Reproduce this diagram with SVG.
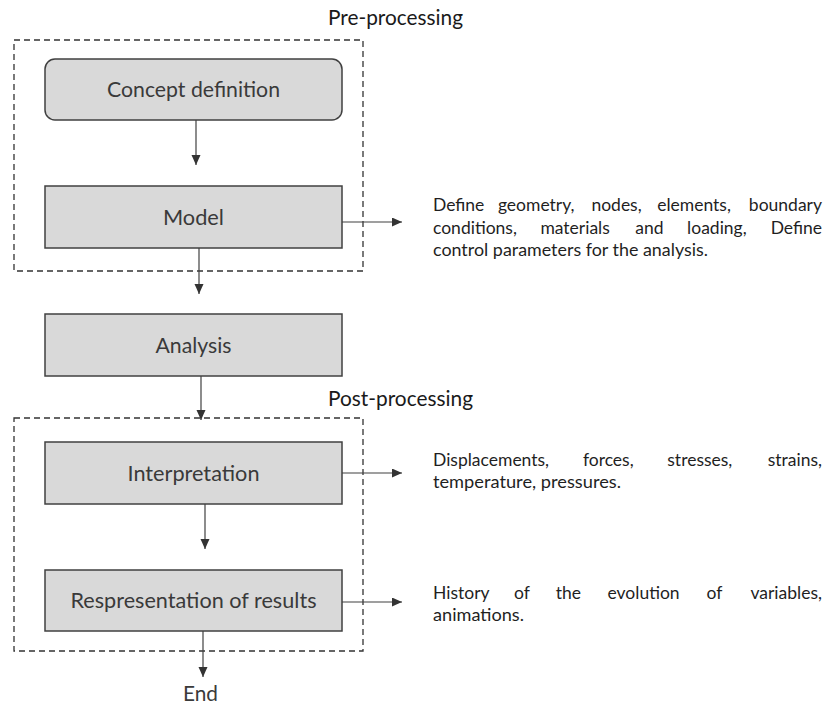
<svg xmlns="http://www.w3.org/2000/svg" width="827" height="704" viewBox="0 0 827 704">
<style>
.bg{fill:#ffffff}
.box{fill:#d9d9d9;stroke:#404040;stroke-width:1.5}
.group{fill:none;stroke:#333333;stroke-width:1.3;stroke-dasharray:6 4}
.lbl{font-family:Lato,"Open Sans","Liberation Sans",sans-serif;font-size:21px;fill:#3a3a3a;text-anchor:middle}
.title{font-family:Lato,"Open Sans","Liberation Sans",sans-serif;font-size:21px;fill:#1a1a1a}
.note{font-family:Lato,"Open Sans","Liberation Sans",sans-serif;font-size:17.5px;fill:#1f1f1f}
.conn{stroke:#404040;stroke-width:1.2;fill:none;marker-end:url(#ah)}
</style>
<defs>
<marker id="ah" markerUnits="userSpaceOnUse" markerWidth="10" markerHeight="10" refX="10" refY="4.5" orient="auto">
<path d="M0,0 L10,4.5 L0,9 z" fill="#333333"/>
</marker>
</defs>
<rect class="bg" x="0" y="0" width="827" height="704"/>

<g id="pre-processing">
<rect class="group" x="14" y="40" width="349" height="231"/>
<text class="title" x="328" y="25" textLength="135" lengthAdjust="spacingAndGlyphs">Pre-processing</text>
</g>
<g id="post-processing">
<rect class="group" x="14" y="418" width="349" height="233"/>
<text class="title" x="328" y="406" textLength="145" lengthAdjust="spacingAndGlyphs">Post-processing</text>
</g>

<g id="concept">
<rect class="box" x="45" y="59" width="297" height="61" rx="10" ry="10"/>
<text class="lbl" x="193.5" y="97" textLength="173" lengthAdjust="spacingAndGlyphs">Concept definition</text>
</g>
<g id="model">
<rect class="box" x="45" y="186" width="297" height="62"/>
<text class="lbl" x="193.5" y="225" textLength="61" lengthAdjust="spacingAndGlyphs">Model</text>
</g>
<g id="analysis">
<rect class="box" x="45" y="314" width="297" height="62"/>
<text class="lbl" x="193.5" y="353" textLength="76" lengthAdjust="spacingAndGlyphs">Analysis</text>
</g>
<g id="interpretation">
<rect class="box" x="45" y="442" width="297" height="62"/>
<text class="lbl" x="193.5" y="481" textLength="132" lengthAdjust="spacingAndGlyphs">Interpretation</text>
</g>
<g id="representation">
<rect class="box" x="45" y="570" width="297" height="61"/>
<text class="lbl" x="193.5" y="608" textLength="246" lengthAdjust="spacingAndGlyphs">Respresentation of results</text>
</g>
<g id="end">
<text class="lbl" x="200.5" y="701" textLength="35" lengthAdjust="spacingAndGlyphs">End</text>
</g>

<g id="note-model">
<text class="note" y="211"><tspan x="433">Define</tspan><tspan x="497.9">geometry,</tspan><tspan x="591.4">nodes,</tspan><tspan x="657.2">elements,</tspan><tspan x="822" text-anchor="end">boundary</tspan></text>
<text class="note" y="234"><tspan x="433">conditions,</tspan><tspan x="540.4">materials</tspan><tspan x="635.2">and</tspan><tspan x="687.1">loading,</tspan><tspan x="822" text-anchor="end">Define</tspan></text>
<text class="note" x="433" y="256" textLength="275" lengthAdjust="spacingAndGlyphs">control parameters for the analysis.</text>
</g>
<g id="note-interpretation">
<text class="note" y="466"><tspan x="433">Displacements,</tspan><tspan x="582.9">forces,</tspan><tspan x="667.3">stresses,</tspan><tspan x="822" text-anchor="end">strains,</tspan></text>
<text class="note" x="433" y="488" textLength="188" lengthAdjust="spacingAndGlyphs">temperature, pressures.</text>
</g>
<g id="note-representation">
<text class="note" y="599"><tspan x="433">History</tspan><tspan x="514.1">of</tspan><tspan x="555.8">the</tspan><tspan x="607.5">evolution</tspan><tspan x="706.5">of</tspan><tspan x="822" text-anchor="end">variables,</tspan></text>
<text class="note" x="433" y="621" textLength="91" lengthAdjust="spacingAndGlyphs">animations.</text>
</g>

<g id="connectors">
<line class="conn" x1="196" y1="120" x2="196" y2="165"/>
<line class="conn" x1="199" y1="248" x2="199" y2="294"/>
<line class="conn" x1="201" y1="376" x2="201" y2="420"/>
<line class="conn" x1="205" y1="504" x2="205" y2="549"/>
<line class="conn" x1="203" y1="631" x2="203" y2="677"/>
<line class="conn" x1="342" y1="222" x2="402" y2="222"/>
<line class="conn" x1="342" y1="473" x2="402" y2="473"/>
<line class="conn" x1="342" y1="602" x2="402" y2="602"/>
</g>
</svg>
